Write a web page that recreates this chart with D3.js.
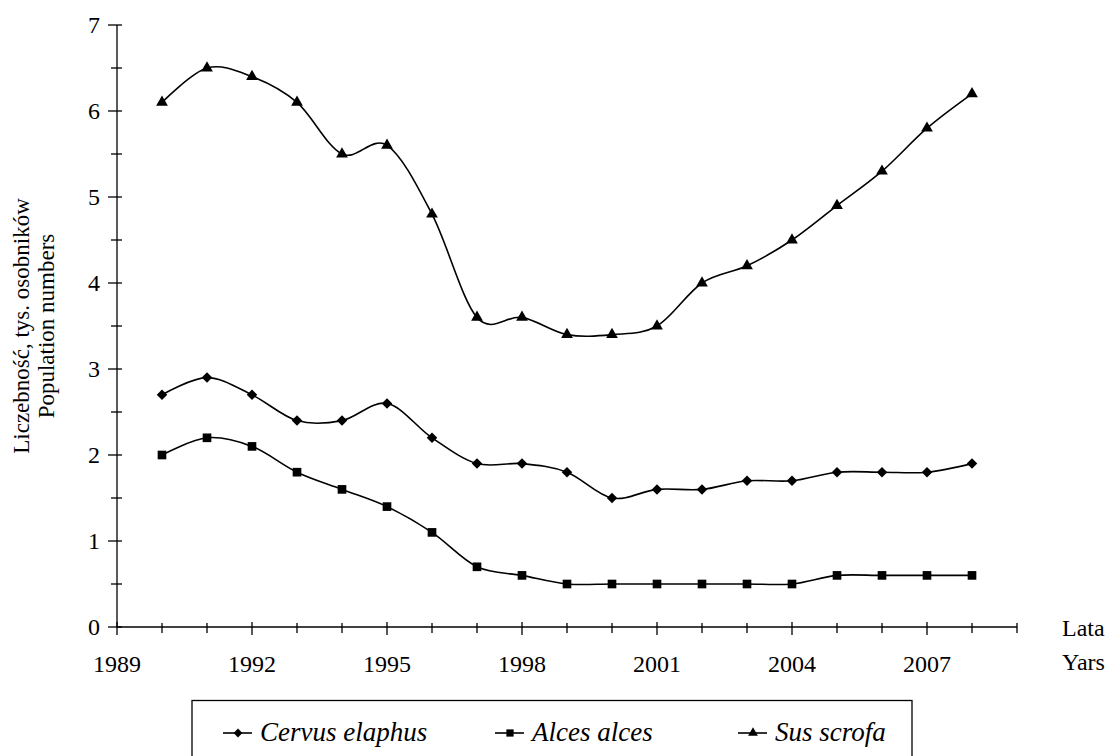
<!DOCTYPE html>
<html>
<head>
<meta charset="utf-8">
<script src="https://cdn.jsdelivr.net/npm/d3@7/dist/d3.min.js"></script>
<style>
  html, body { margin: 0; padding: 0; background: #fff; }
  svg text { font-family: 'Liberation Serif', 'Times New Roman', serif; }
</style>
</head>
<body>
<svg id="chart" width="1111" height="756"></svg>
<script>
// Population numbers (thousands) by year
const years = [1990, 1991, 1992, 1993, 1994, 1995, 1996, 1997, 1998, 1999,
               2000, 2001, 2002, 2003, 2004, 2005, 2006, 2007, 2008];
const cervusElaphus = [2.7, 2.9, 2.7, 2.4, 2.4, 2.6, 2.2, 1.9, 1.9, 1.8,
                       1.5, 1.6, 1.6, 1.7, 1.7, 1.8, 1.8, 1.8, 1.9];
const alcesAlces = [2.0, 2.2, 2.1, 1.8, 1.6, 1.4, 1.1, 0.7, 0.6, 0.5,
                    0.5, 0.5, 0.5, 0.5, 0.5, 0.6, 0.6, 0.6, 0.6];
const susScrofa = [6.1, 6.5, 6.4, 6.1, 5.5, 5.6, 4.8, 3.6, 3.6, 3.4,
                   3.4, 3.5, 4.0, 4.2, 4.5, 4.9, 5.3, 5.8, 6.2];
const seriesNames = ["Cervus elaphus", "Alces alces", "Sus scrofa"];
const xTickLabels = [1989, 1992, 1995, 1998, 2001, 2004, 2007];
const yTickLabels = [0, 1, 2, 3, 4, 5, 6, 7];

const series = [
  { name: seriesNames[0], values: cervusElaphus, symbol: d3.symbolDiamond2, size: 70 },
  { name: seriesNames[1], values: alcesAlces, symbol: d3.symbolSquare, size: 75 },
  { name: seriesNames[2], values: susScrofa, symbol: d3.symbolTriangle, size: 60 }
];

const FONT = "Liberation Serif, Times New Roman, serif";
const svg = d3.select("#chart");
const x = d3.scaleLinear().domain([1989, 2009]).range([117, 1017]);
const y = d3.scaleLinear().domain([0, 7]).range([627, 25]);

const ink = "#000";

// Y axis
const gy = svg.append("g");
gy.append("line").attr("x1", x(1989)).attr("x2", x(1989))
  .attr("y1", y(0)).attr("y2", y(7)).attr("stroke", ink).attr("stroke-width", 1.3);
d3.range(0, 7.01, 0.5).forEach(v => {
  const major = Math.abs(v - Math.round(v)) < 1e-9;
  gy.append("line")
    .attr("x1", x(1989) - (major ? 9 : 6)).attr("x2", x(1989) + 5)
    .attr("y1", y(v)).attr("y2", y(v))
    .attr("stroke", ink).attr("stroke-width", 1.3);
});
gy.selectAll("text.ytick").data(yTickLabels).join("text")
  .attr("class", "ytick")
  .attr("x", x(1989) - 17).attr("y", d => y(d) + 8)
  .attr("text-anchor", "end").attr("font-family", FONT).attr("font-size", 24).attr("fill", ink)
  .text(d => d);

// X axis
const gx = svg.append("g");
gx.append("line").attr("x1", x(1989)).attr("x2", x(2009))
  .attr("y1", y(0)).attr("y2", y(0)).attr("stroke", ink).attr("stroke-width", 1.3);
d3.range(1989, 2010).forEach(yr => {
  const major = xTickLabels.includes(yr);
  gx.append("line")
    .attr("x1", x(yr)).attr("x2", x(yr))
    .attr("y1", y(0) - (major ? 5 : 4)).attr("y2", y(0) + (major ? 8 : 6))
    .attr("stroke", ink).attr("stroke-width", 1.3);
});
gx.selectAll("text.xtick").data(xTickLabels).join("text")
  .attr("class", "xtick")
  .attr("x", d => x(d)).attr("y", 672)
  .attr("text-anchor", "middle").attr("font-family", FONT).attr("font-size", 24).attr("fill", ink)
  .text(d => d);

// Axis titles
svg.append("text").attr("x", 1062).attr("y", 636)
  .attr("font-family", FONT).attr("font-size", 24).attr("fill", ink).text("Lata");
svg.append("text").attr("x", 1062).attr("y", 670)
  .attr("font-family", FONT).attr("font-size", 24).attr("fill", ink).text("Yars");
const yTitle = svg.append("text")
  .attr("transform", "translate(0,326) rotate(-90)")
  .attr("font-family", FONT)
  .attr("text-anchor", "middle").attr("font-size", 23).attr("fill", ink);
yTitle.append("tspan").attr("x", 0).attr("y", 29).text("Liczebność, tys. osobników");
yTitle.append("tspan").attr("x", 0).attr("y", 54).text("Population numbers");

// Smoothed series lines with markers
const line = d3.line()
  .x((d, i) => x(years[i]))
  .y(d => y(d))
  .curve(d3.curveCatmullRom.alpha(0));

series.forEach(s => {
  svg.append("path").datum(s.values)
    .attr("d", line).attr("fill", "none")
    .attr("stroke", ink).attr("stroke-width", 1.6);
  const sym = d3.symbol().type(s.symbol).size(s.size);
  svg.append("g").selectAll("path").data(s.values).join("path")
    .attr("transform", (d, i) => `translate(${x(years[i])},${y(d)})`)
    .attr("d", sym).attr("fill", ink);
});

// Legend
const lg = svg.append("g");
lg.append("rect").attr("x", 192).attr("y", 700.5).attr("width", 720).attr("height", 70)
  .attr("fill", "none").attr("stroke", ink).attr("stroke-width", 1.3);
const legendX = [223, 495, 738];
series.forEach((s, i) => {
  const lx = legendX[i];
  lg.append("line").attr("x1", lx).attr("x2", lx + 29)
    .attr("y1", 733).attr("y2", 733).attr("stroke", ink).attr("stroke-width", 1.6);
  lg.append("path")
    .attr("transform", `translate(${lx + 15},733)`)
    .attr("d", d3.symbol().type(s.symbol).size(s.size * 0.7)).attr("fill", ink);
  lg.append("text").attr("x", lx + 37).attr("y", 741)
    .attr("font-family", FONT)
    .attr("font-size", 27).attr("font-style", "italic").attr("fill", ink)
    .text(s.name);
});
</script>
</body>
</html>
